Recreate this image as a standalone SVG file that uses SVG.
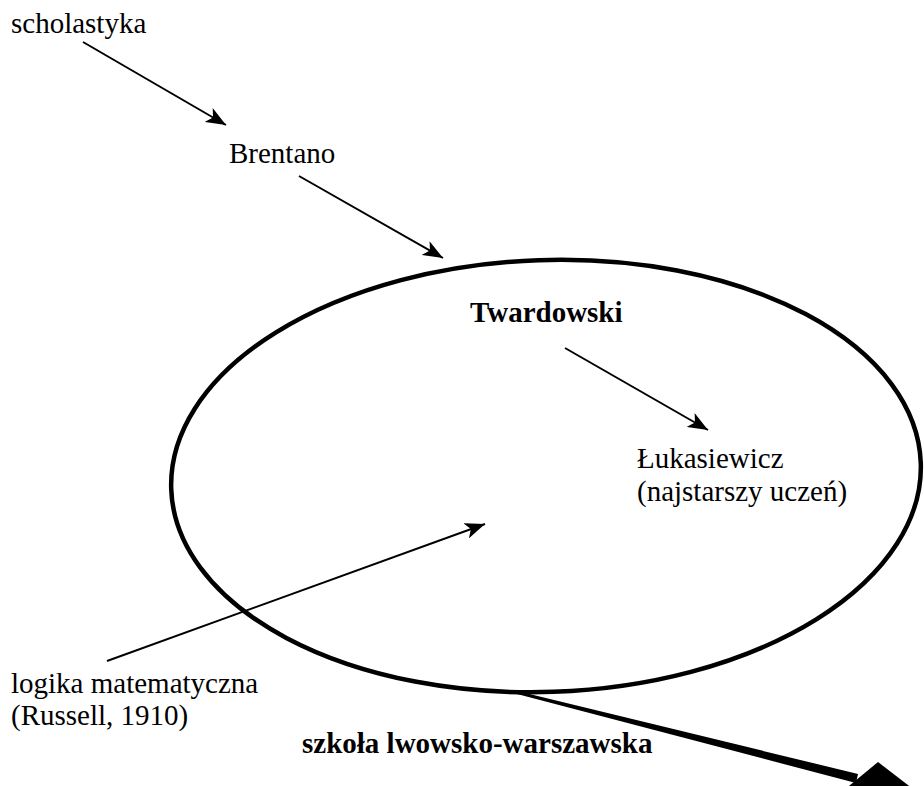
<svg xmlns="http://www.w3.org/2000/svg" width="924" height="786" viewBox="0 0 924 786">
  <style>
    text { font-family: "Liberation Serif", "Times New Roman", serif; font-size: 29px; fill: #000; }
    .bold { font-weight: bold; }
    .conn { stroke: #000; stroke-width: 2; fill: none; }
  </style>
  <defs>
    <marker id="head" markerUnits="userSpaceOnUse" viewBox="0 0 20 16" refX="20" refY="8" markerWidth="20" markerHeight="16" orient="auto">
      <path d="M0,0 L20,8 L0,16 L5,8 Z" fill="#000"/>
    </marker>
  </defs>
  <rect width="924" height="786" fill="#fff"/>

  <!-- school boundary -->
  <g id="school">
    <ellipse cx="546" cy="476" rx="375" ry="216" transform="rotate(-2 546 476)" fill="none" stroke="#000" stroke-width="4.5"/>
  </g>

  <g id="scholastyka">
    <text x="11" y="33">scholastyka</text>
  </g>
  <g id="brentano">
    <text x="229" y="163">Brentano</text>
  </g>
  <g id="twardowski">
    <text class="bold" x="470" y="322">Twardowski</text>
  </g>
  <g id="lukasiewicz">
    <text x="637" y="468">Łukasiewicz</text>
    <text x="637" y="501">(najstarszy uczeń)</text>
  </g>
  <g id="logika">
    <text x="11" y="693">logika matematyczna</text>
    <text x="11" y="725">(Russell, 1910)</text>
  </g>
  <g id="szkola">
    <text class="bold" x="302" y="753">szkoła lwowsko-warszawska</text>
  </g>

  <g id="connectors">
    <line class="conn" x1="83" y1="42" x2="226" y2="125" marker-end="url(#head)"/>
    <line class="conn" x1="299" y1="176" x2="443" y2="258" marker-end="url(#head)"/>
    <line class="conn" x1="565" y1="348" x2="708" y2="430" marker-end="url(#head)"/>
    <line class="conn" x1="107" y1="661" x2="485" y2="524" marker-end="url(#head)"/>
    <!-- tapered outgoing arrow -->
    <polygon points="517,691 517,694 856,783 858,774" fill="#000"/>
    <polygon points="878,762 832,800 930,802" fill="#000"/>
  </g>
</svg>
